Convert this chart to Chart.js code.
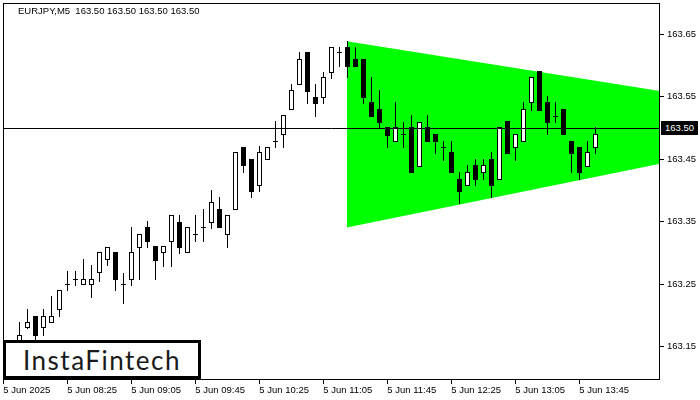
<!DOCTYPE html>
<html>
<head>
<meta charset="utf-8">
<title>EURJPY M5</title>
<script src="https://cdn.jsdelivr.net/npm/chart.js@4.4.1/dist/chart.umd.min.js"></script>
<style>
    body { margin: 0; background: #fff; }
    #wrap { position: relative; width: 700px; height: 400px; overflow: hidden; }
    #titulo {
        position: absolute; left: 18px; top: 5px;
        font: 9.5px "Liberation Sans", Arial, sans-serif; color: #000; white-space: pre;
    }
    #precio {
        position: absolute; left: 661px; top: 121px; width: 37px; height: 14px;
        background: #000; color: #fff; font: 9.5px "Liberation Sans", Arial, sans-serif;
        line-height: 14px; text-align: center;
    }
    #logo {
        position: absolute; left: 3px; top: 340px; width: 198px; height: 39px;
        box-sizing: border-box; border: 3px solid #000; background: #fff;
        font: 26px Lato, "Noto Sans", sans-serif; letter-spacing: 1.5px; color: #1a1a1a;
        display: flex; align-items: center; justify-content: center;
    }
</style>
</head>
<body>
<div id="wrap">
    <canvas id="grafico" width="700" height="400"></canvas>
    <div id="titulo">EURJPY,M5  163.50 163.50 163.50 163.50</div>
    <div id="precio">163.50</div>
    <div id="logo">InstaFintech</div>
</div>
<script>
// Velas M5 (la primera visible es la barra 2, las anteriores quedan bajo el logo)
const firstBar = 2;
const barOpen = [
    163.157, 163.181, 163.200, 163.181, 163.190, 163.210, 163.250, 163.259, 163.250, 163.250,
    163.270, 163.290, 163.301, 163.250, 163.259, 163.310, 163.342, 163.311, 163.301, 163.319,
    163.350, 163.301, 163.330, 163.341, 163.350, 163.370, 163.330, 163.370, 163.470, 163.450,
    163.409, 163.450, 163.480, 163.490, 163.530, 163.570, 163.621, 163.550, 163.550, 163.590,
    163.621, 163.630, 163.610, 163.610, 163.541, 163.530, 163.501, 163.479, 163.490, 163.501,
    163.439, 163.501, 163.490, 163.470, 163.461, 163.419, 163.409, 163.440, 163.430, 163.450,
    163.419, 163.511, 163.470, 163.480, 163.541, 163.591, 163.541, 163.519, 163.530, 163.480,
    163.470, 163.439, 163.470
];
const barHigh = [
    163.190, 163.210, 163.200, 163.210, 163.231, 163.240, 163.271, 163.271, 163.290, 163.280,
    163.301, 163.310, 163.301, 163.268, 163.342, 163.330, 163.351, 163.311, 163.311, 163.360,
    163.360, 163.341, 163.360, 163.370, 163.400, 163.390, 163.360, 163.461, 163.470, 163.450,
    163.471, 163.470, 163.511, 163.520, 163.570, 163.621, 163.621, 163.570, 163.590, 163.630,
    163.630, 163.639, 163.630, 163.610, 163.581, 163.560, 163.501, 163.541, 163.510, 163.520,
    163.510, 163.520, 163.490, 163.480, 163.480, 163.430, 163.440, 163.450, 163.450, 163.461,
    163.501, 163.511, 163.490, 163.541, 163.581, 163.591, 163.551, 163.541, 163.530, 163.480,
    163.470, 163.480, 163.501
];
const barLow = [
    163.154, 163.180, 163.160, 163.169, 163.190, 163.200, 163.240, 163.249, 163.250, 163.230,
    163.255, 163.280, 163.240, 163.220, 163.249, 163.259, 163.310, 163.259, 163.279, 163.279,
    163.300, 163.301, 163.319, 163.319, 163.340, 163.341, 163.310, 163.370, 163.430, 163.390,
    163.399, 163.450, 163.470, 163.470, 163.530, 163.570, 163.540, 163.519, 163.540, 163.580,
    163.599, 163.581, 163.599, 163.540, 163.519, 163.501, 163.470, 163.479, 163.470, 163.430,
    163.439, 163.479, 163.460, 163.449, 163.430, 163.380, 163.409, 163.409, 163.419, 163.390,
    163.419, 163.460, 163.449, 163.480, 163.529, 163.529, 163.490, 163.510, 163.490, 163.430,
    163.419, 163.439, 163.460
];
const barClose = [
    163.169, 163.190, 163.169, 163.200, 163.200, 163.240, 163.250, 163.259, 163.259, 163.259,
    163.301, 163.310, 163.259, 163.250, 163.301, 163.330, 163.319, 163.289, 163.311, 163.360,
    163.310, 163.341, 163.330, 163.341, 163.381, 163.341, 163.360, 163.461, 163.440, 163.399,
    163.461, 163.470, 163.480, 163.520, 163.560, 163.610, 163.559, 163.540, 163.581, 163.630,
    163.621, 163.599, 163.599, 163.550, 163.519, 163.510, 163.489, 163.501, 163.490, 163.430,
    163.510, 163.479, 163.479, 163.470, 163.430, 163.399, 163.430, 163.419, 163.440, 163.409,
    163.501, 163.460, 163.490, 163.530, 163.581, 163.529, 163.510, 163.519, 163.490, 163.460,
    163.430, 163.461, 163.490
];

const lastPrice = 163.50;

// Eje de tiempo: una etiqueta cada 8 barras
const tickBars = [0, 8, 16, 24, 32, 40, 48, 56, 64, 72];
const timeLabels = ['5 Jun 2025', '5 Jun 08:25', '5 Jun 09:05', '5 Jun 09:45', '5 Jun 10:25',
    '5 Jun 11:05', '5 Jun 11:45', '5 Jun 12:25', '5 Jun 13:05', '5 Jun 13:45'];
const priceTicks = [163.15, 163.25, 163.35, 163.45, 163.55, 163.65];

// Triángulo (figura de continuación)
const triangleBars = [42.93, 82.09];
const triangleTop = [163.639, 163.559];
const triangleBottom = [163.341, 163.443];

const candlePlugin = {
    id: 'candles',
    afterDatasetsDraw(chart) {
        const { ctx, chartArea: area, scales: { x, y } } = chart;
        ctx.save();
        ctx.beginPath();
        ctx.rect(area.left, area.top, area.right - area.left, area.bottom - area.top);
        ctx.clip();
        ctx.lineWidth = 1;
        ctx.strokeStyle = '#000';
        ctx.fillStyle = '#000';

        for (let k = 0; k < barOpen.length; k++) {
            const cx = Math.round(x.getPixelForValue(firstBar + k)) + 0.5;
            const yO = Math.round(y.getPixelForValue(barOpen[k]));
            const yC = Math.round(y.getPixelForValue(barClose[k]));
            const yH = Math.round(y.getPixelForValue(barHigh[k]));
            const yL = Math.round(y.getPixelForValue(barLow[k]));

            // mecha
            ctx.beginPath();
            ctx.moveTo(cx, yH);
            ctx.lineTo(cx, yL + 1);
            ctx.stroke();

            const top = Math.min(yO, yC);
            const h = Math.abs(yO - yC);
            if (h === 0) {
                ctx.fillStyle = '#000';
                ctx.fillRect(cx - 2.5, yO, 5, 1);
            } else if (barClose[k] > barOpen[k]) {
                ctx.fillStyle = '#fff';
                ctx.fillRect(cx - 2.5, top, 5, h + 1);
                ctx.strokeRect(cx - 2, top + 0.5, 4, h);
            } else {
                ctx.fillStyle = '#000';
                ctx.fillRect(cx - 2.5, top, 5, h + 1);
            }
        }

        // línea de precio actual
        const yp = Math.round(y.getPixelForValue(lastPrice)) + 0.5;
        ctx.beginPath();
        ctx.moveTo(area.left, yp);
        ctx.lineTo(area.right, yp);
        ctx.stroke();
        ctx.restore();

        // marco
        ctx.save();
        ctx.strokeStyle = '#000';
        ctx.lineWidth = 1;
        ctx.strokeRect(area.left + 0.5, area.top + 0.5, area.right - area.left - 1, area.bottom - area.top - 1);
        ctx.restore();
    }
};

Chart.defaults.font.family = '"Liberation Sans", Arial, sans-serif';
Chart.defaults.font.size = 9.5;
Chart.defaults.color = '#000';

new Chart(document.getElementById('grafico'), {
    type: 'line',
    data: {
        datasets: [
            {
                data: triangleBars.map((b, k) => ({ x: b, y: triangleTop[k] })),
                borderWidth: 0,
                pointRadius: 0,
                backgroundColor: '#00ff00',
                fill: '+1'
            },
            {
                data: triangleBars.map((b, k) => ({ x: b, y: triangleBottom[k] })),
                borderWidth: 0,
                pointRadius: 0,
                fill: false
            }
        ]
    },
    options: {
        responsive: false,
        animation: false,
        devicePixelRatio: 1,
        layout: { padding: { left: 3, top: 3, right: 0, bottom: 0 } },
        plugins: {
            legend: { display: false },
            tooltip: { enabled: false }
        },
        scales: {
            x: {
                type: 'linear',
                min: -0.0375,
                max: 82.0875,
                border: { display: false },
                grid: { drawOnChartArea: false, drawTicks: true, tickLength: 4, tickColor: '#000' },
                ticks: {
                    align: 'start',
                    padding: 1,
                    maxRotation: 0,
                    autoSkip: false,
                    callback: (v, idx) => timeLabels[idx]
                },
                afterBuildTicks: (scale) => { scale.ticks = tickBars.map(v => ({ value: v })); },
                afterFit: (scale) => {
                    scale.height = 20;
                    scale.paddingLeft = 0;
                    scale.paddingRight = 0;
                }
            },
            y: {
                type: 'linear',
                position: 'right',
                min: 163.0968,
                max: 163.70,
                border: { display: false },
                grid: { drawOnChartArea: false, drawTicks: true, tickLength: 4, tickColor: '#000' },
                ticks: {
                    padding: 3,
                    autoSkip: false,
                    callback: (v) => v.toFixed(2)
                },
                afterBuildTicks: (scale) => { scale.ticks = priceTicks.map(v => ({ value: v })); },
                afterFit: (scale) => {
                    scale.width = 40;
                    scale.paddingTop = 0;
                    scale.paddingBottom = 0;
                }
            }
        }
    },
    plugins: [candlePlugin]
});
</script>
</body>
</html>
